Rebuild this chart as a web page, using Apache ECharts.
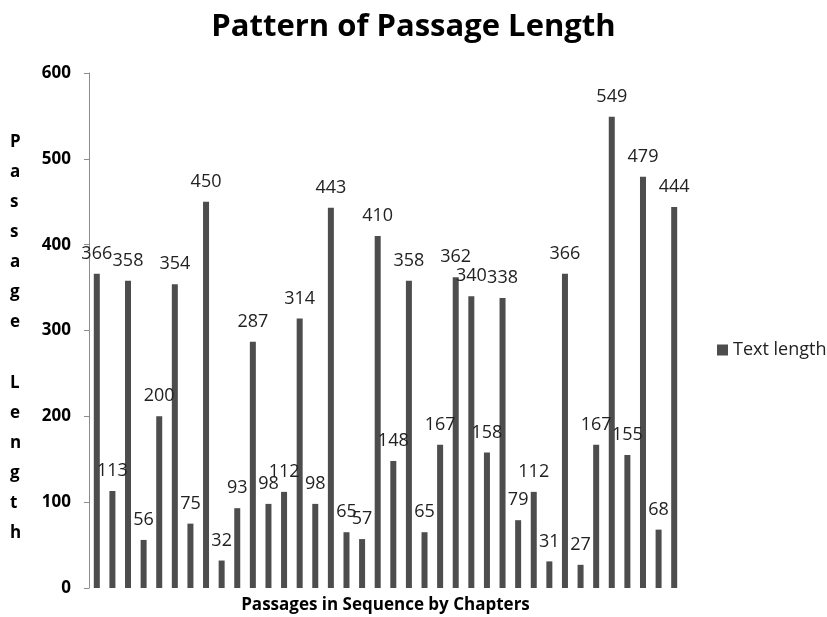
<!DOCTYPE html>
<html>
<head>
<meta charset="utf-8">
<script src="https://cdn.jsdelivr.net/npm/echarts@6/dist/echarts.min.js"></script>
<style>body{margin:0;background:#fff}</style>
</head>
<body>
<div id="main" style="width:827px;height:617px"></div>
<script type="text/javascript">
    // passage lengths, in chapter order
    var passages = [];
    var textLength = [366, 113, 358, 56, 200, 354, 75, 450, 32, 93, 287, 98, 112, 314, 98, 443, 65, 57, 410, 148,
        358, 65, 167, 362, 340, 158, 338, 79, 112, 31, 366, 27, 167, 549, 155, 479, 68, 444];
    for (var i = 0; i < textLength.length; i++) passages.push(String(i + 1));
    var yTicks = [0, 100, 200, 300, 400, 500, 600];

    var myChart = echarts.init(document.getElementById('main'));

    var option = {
        animation: false,
        title: {
            text: 'Pattern of Passage Length',
            left: 'center',
            top: 7,
            textStyle: {fontFamily: 'Open Sans', fontWeight: 'bold', fontSize: 31, color: '#000'}
        },
        legend: {
            data: ['Text length'],
            orient: 'vertical',
            left: 712,
            top: 336,
            itemWidth: 11,
            itemHeight: 11,
            itemGap: 5,
            icon: 'rect',
            textStyle: {fontFamily: 'Open Sans', fontSize: 18, color: '#222'}
        },
        grid: {left: 89, right: 145, top: 73, bottom: 29, outerBoundsMode: 'none'},
        xAxis: {
            type: 'category',
            data: passages,
            name: 'Passages in Sequence by Chapters',
            nameLocation: 'middle',
            nameGap: 9,
            nameTextStyle: {fontFamily: 'Open Sans', fontWeight: 'bold', fontSize: 17, color: '#000', verticalAlign: 'top'},
            axisLine: {show: false},
            axisTick: {show: false},
            axisLabel: {show: false}
        },
        yAxis: {
            type: 'value',
            min: yTicks[0],
            max: yTicks[yTicks.length - 1],
            interval: 100,
            axisLine: {show: true, lineStyle: {color: '#8c8c8c'}},
            axisTick: {show: true, length: 5, lineStyle: {color: '#8c8c8c'}},
            splitLine: {show: false},
            axisLabel: {fontFamily: 'Open Sans', fontWeight: 'bold', fontSize: 17, color: '#000', margin: 18}
        },
        graphic: [{
            type: 'text',
            left: 10,
            top: 127,
            style: {
                text: 'P\na\ns\ns\na\ng\ne\n\nL\ne\nn\ng\nt\nh',
                fontFamily: 'Open Sans',
                fontWeight: 'bold',
                fontSize: 17,
                lineHeight: 30.1,
                fill: '#000',
                align: 'center'
            }
        }],
        series: [{
            name: 'Text length',
            type: 'bar',
            data: textLength,
            barWidth: 6,
            itemStyle: {color: '#4d4d4d'},
            label: {
                show: true,
                position: 'top',
                distance: 11,
                fontFamily: 'Open Sans',
                fontSize: 18,
                color: '#222'
            }
        }]
    };

    myChart.setOption(option);
</script>
</body>
</html>
